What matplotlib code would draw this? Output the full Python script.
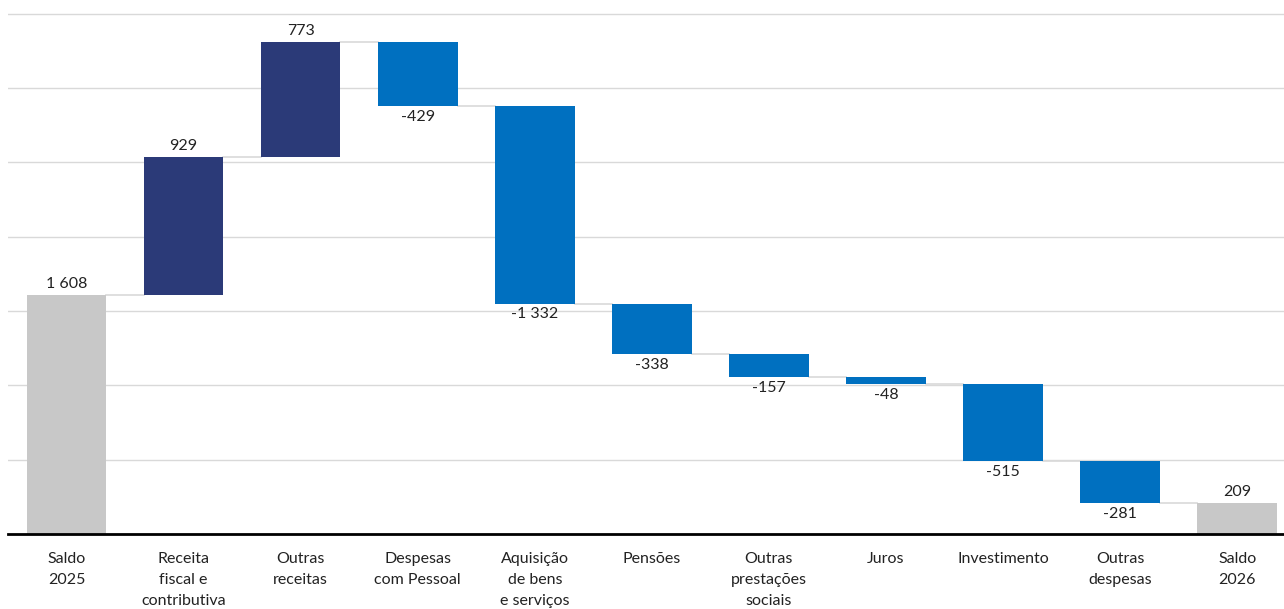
import numpy as np
import matplotlib
matplotlib.use("Agg")
import matplotlib.pyplot as plt

plt.rcParams["font.family"] = ["Lato", "DejaVu Sans"]

categories = ["Saldo\n2025", "Receita\nfiscal e\ncontributiva", "Outras\nreceitas",
              "Despesas\ncom Pessoal", "Aquisição\nde bens\ne serviços", "Pensões",
              "Outras\nprestações\nsociais", "Juros", "Investimento",
              "Outras\ndespesas", "Saldo\n2026"]
values = [1608, 929, 773, -429, -1332, -338, -157, -48, -515, -281, 209]
labels = ["1 608", "929", "773", "-429", "-1 332", "-338", "-157", "-48", "-515", "-281", "209"]

GREY = "#C8C8C8"
NAVY = "#2B3A78"
BLUE = "#0070C0"

fig = plt.figure(figsize=(12.84, 6.09), dpi=100)
ax = fig.add_axes([8/1284, 75/609, 1 - 8/1284, 534/609])

n = len(values)
x = np.arange(n)
w = 0.68
bottoms, heights, colors = [], [], []
level = 0
for i, v in enumerate(values):
    if i == 0 or i == n - 1:
        bottoms.append(0); heights.append(v); colors.append(GREY)
        level = v
    else:
        if v >= 0:
            bottoms.append(level); heights.append(v); colors.append(NAVY)
        else:
            bottoms.append(level + v); heights.append(-v); colors.append(BLUE)
        level += v

ax.bar(x, heights, bottom=bottoms, width=w, color=colors, zorder=3)

# connectors between bars at the running level
level = 0
tops = []
for i, v in enumerate(values):
    if i == 0:
        level = v
    elif i < n - 1:
        level += v
    tops.append(level)
for i in range(n - 1):
    ax.plot([x[i] + w/2, x[i+1] - w/2], [tops[i], tops[i]], color="#D9D9D9", lw=1.2, zorder=2)

# value labels
for i, v in enumerate(values):
    b, h = bottoms[i], heights[i]
    if v >= 0:
        ax.text(x[i], b + h + 25, labels[i], ha="center", va="bottom", fontsize=11.5, color="#222222")
    else:
        ax.text(x[i], b - 25, labels[i], ha="center", va="top", fontsize=11.5, color="#222222")

ax.set_xlim(-0.5, 10.4)
ax.set_ylim(0, 3593)
ax.set_yticks(np.arange(500, 3501, 500))
ax.yaxis.grid(True, color="#D9D9D9", lw=1.0, zorder=0)
ax.tick_params(axis="y", left=False, labelleft=False)
ax.set_xticks(x)
ax.set_xticklabels(categories, fontsize=11.5, color="#222222", linespacing=1.65, va="top")
ax.tick_params(axis="x", length=0, pad=13)
for s in ["top", "right", "left"]:
    ax.spines[s].set_visible(False)
ax.spines["bottom"].set_color("black")
ax.spines["bottom"].set_linewidth(2)
ax.spines["bottom"].set_zorder(4)

plt.savefig("out.png", dpi=100, facecolor="white")
